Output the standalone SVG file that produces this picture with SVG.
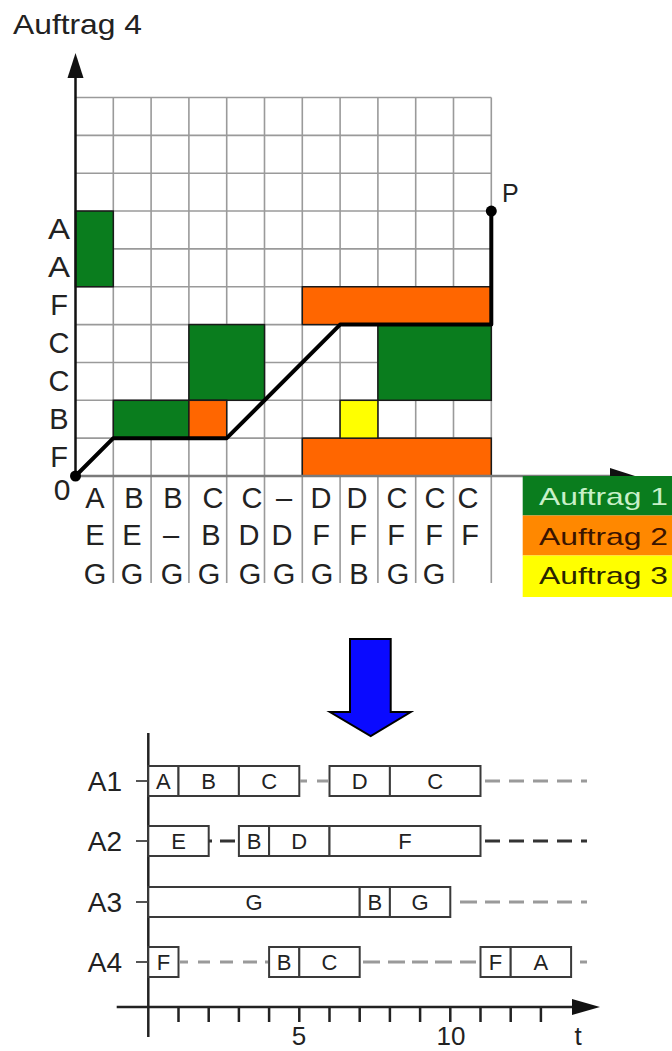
<svg xmlns="http://www.w3.org/2000/svg" width="672" height="1051" viewBox="0 0 672 1051">
<style>
text{font-family:"Liberation Sans",Arial,sans-serif;fill:#222}
.grid{stroke:#9a9a9a;stroke-width:1.6;fill:none}
.g1{fill:#0a7d1e;stroke:#1a1a1a;stroke-width:1.5}
.g2{fill:#ff6600;stroke:#1a1a1a;stroke-width:1.5}
.g3{fill:#ffff00;stroke:#1a1a1a;stroke-width:1.5}
.ylab{font-size:29px;text-anchor:middle}
.clab{font-size:29px;text-anchor:middle}
.box{fill:#fff;stroke:#3a3a3a;stroke-width:2}
.bl{font-size:22px;text-anchor:middle}
.dg{stroke:#9a9a9a;stroke-width:3;fill:none}
.dk{stroke:#333;stroke-width:3;fill:none}
.ax{stroke:#222;stroke-width:2.5;fill:none}
.rl{font-size:28px;text-anchor:end}
</style>

<text x="13" y="34" font-size="28" textLength="129" lengthAdjust="spacingAndGlyphs">Auftrag 4</text>

<g id="grid">
<path class="grid" d="M75.5,97.5H491.3M75.5,135.35H491.3M75.5,173.2H491.3M75.5,211.05H491.3M75.5,248.9H491.3M75.5,286.75H491.3M75.5,324.6H491.3M75.5,362.45H491.3M75.5,400.3H491.3M75.5,438.15H491.3"/>
<path class="grid" d="M113.3,97.5V583M151.1,97.5V583M188.9,97.5V583M226.7,97.5V583M264.5,97.5V583M302.3,97.5V583M340.1,97.5V583M377.9,97.5V583M415.7,97.5V583M453.5,97.5V583M491.3,97.5V583"/>
</g>

<g id="auftrag1-blocks">
<rect class="g1" x="75.5" y="211.05" width="37.8" height="75.7"/>
<rect class="g1" x="113.3" y="400.3" width="75.6" height="37.85"/>
<rect class="g1" x="188.9" y="324.6" width="75.6" height="75.7"/>
<rect class="g1" x="377.9" y="324.6" width="113.4" height="75.7"/>
</g>
<g id="auftrag2-blocks">
<rect class="g2" x="188.9" y="400.3" width="37.8" height="37.85"/>
<rect class="g2" x="302.3" y="286.75" width="189" height="37.85"/>
<rect class="g2" x="302.3" y="438.15" width="189" height="37.85"/>
</g>
<g id="auftrag3-blocks">
<rect class="g3" x="340.1" y="400.3" width="37.8" height="37.85"/>
</g>

<g id="axes-top">
<line x1="75.5" y1="476" x2="612" y2="476" stroke="#7a7a7a" stroke-width="2.5"/>
<polygon points="635,476 610,468 610,484" fill="#111"/>
<line x1="75.5" y1="478" x2="75.5" y2="76" stroke="#111" stroke-width="2.5"/>
<polygon points="75.5,53 67.5,78 83.5,78" fill="#111"/>
</g>

<g id="connectors">
<path d="M75.5,476 L113.3,438.15 L226.7,438.15 L340.1,324.6 L491.3,324.6 L491.3,211.05" fill="none" stroke="#000" stroke-width="4" stroke-linejoin="round"/>
<circle cx="75.5" cy="476" r="5.5" fill="#000"/>
<circle cx="491.3" cy="211.05" r="5.5" fill="#000"/>
</g>

<text x="502" y="202" font-size="25">P</text>
<text x="62" y="500" font-size="30" text-anchor="middle">0</text>

<g id="ylabels">
<text class="ylab" x="59" y="239" textLength="22" lengthAdjust="spacingAndGlyphs">A</text>
<text class="ylab" x="59" y="277" textLength="22" lengthAdjust="spacingAndGlyphs">A</text>
<text class="ylab" x="59" y="315">F</text>
<text class="ylab" x="59" y="353">C</text>
<text class="ylab" x="59" y="391">C</text>
<text class="ylab" x="59" y="429">B</text>
<text class="ylab" x="59" y="467">F</text>
</g>

<g id="collabels">
<text class="clab" x="95" y="508">A</text><text class="clab" x="95" y="545">E</text><text class="clab" x="95" y="584">G</text>
<text class="clab" x="134" y="508">B</text><text class="clab" x="132" y="545">E</text><text class="clab" x="132" y="584">G</text>
<text class="clab" x="173" y="508">B</text><text class="clab" x="171" y="545">–</text><text class="clab" x="172" y="584">G</text>
<text class="clab" x="213" y="508">C</text><text class="clab" x="211" y="545">B</text><text class="clab" x="209" y="584">G</text>
<text class="clab" x="252" y="508">C</text><text class="clab" x="249" y="545">D</text><text class="clab" x="250" y="584">G</text>
<text class="clab" x="284" y="508">–</text><text class="clab" x="282" y="545">D</text><text class="clab" x="284" y="584">G</text>
<text class="clab" x="321" y="508">D</text><text class="clab" x="321" y="545">F</text><text class="clab" x="322" y="584">G</text>
<text class="clab" x="357" y="508">D</text><text class="clab" x="358" y="545">F</text><text class="clab" x="359" y="584">B</text>
<text class="clab" x="397" y="508">C</text><text class="clab" x="396" y="545">F</text><text class="clab" x="398" y="584">G</text>
<text class="clab" x="435" y="508">C</text><text class="clab" x="434" y="545">F</text><text class="clab" x="434" y="584">G</text>
<text class="clab" x="468" y="508">C</text><text class="clab" x="470" y="545">F</text>
</g>

<g id="legend">
<rect x="522.7" y="476" width="149.3" height="39.5" fill="#0a7d1e"/>
<rect x="522.7" y="515.5" width="149.3" height="40" fill="#ff8800"/>
<rect x="522.7" y="555.5" width="149.3" height="41.5" fill="#ffff00"/>
<text x="539" y="505" font-size="24" style="fill:#c8f0c8" textLength="129" lengthAdjust="spacingAndGlyphs">Auftrag 1</text>
<text x="539" y="545" font-size="24" style="fill:#3a1400" textLength="129" lengthAdjust="spacingAndGlyphs">Auftrag 2</text>
<text x="539" y="584" font-size="24" style="fill:#2a2400" textLength="129" lengthAdjust="spacingAndGlyphs">Auftrag 3</text>
</g>

<g id="blue-arrow">
<polygon points="350,639 390.7,639 390.7,712 410.7,712 370.7,736 330,712 350,712" fill="#0a0aff" stroke="#000" stroke-width="2" stroke-linejoin="miter"/>
</g>

<g id="gantt-axes">
<line class="ax" x1="148.3" y1="733" x2="148.3" y2="1037"/>
<line class="ax" x1="116.7" y1="1007" x2="575" y2="1007"/>
<polygon points="600,1007 572,999 572,1015" fill="#111"/>
<path class="ax" stroke-width="2" d="M178.5,1007V1022M208.7,1007V1022M238.9,1007V1022M269.1,1007V1022M299.3,1007V1022M329.5,1007V1022M359.7,1007V1022M389.9,1007V1022M420.1,1007V1022M450.3,1007V1022M480.5,1007V1022M510.7,1007V1022M540.9,1007V1022"/>
<path stroke="#555" stroke-width="2" d="M136,781H148M136,841H148M136,902H148M136,962H148"/>
<text x="299" y="1045" font-size="26" text-anchor="middle">5</text>
<text x="451" y="1045" font-size="26" text-anchor="middle">10</text>
<text x="578" y="1045" font-size="26" text-anchor="middle">t</text>
</g>

<g id="row-A1">
<text class="rl" x="122" y="791">A1</text>
<rect class="box" x="148.3" y="766" width="30.2" height="30"/><text class="bl" x="163.4" y="789">A</text>
<rect class="box" x="178.5" y="766" width="60.4" height="30"/><text class="bl" x="208.7" y="789">B</text>
<rect class="box" x="238.9" y="766" width="60.4" height="30"/><text class="bl" x="269.1" y="789">C</text>
<rect class="box" x="329.5" y="766" width="60.4" height="30"/><text class="bl" x="359.7" y="789">D</text>
<rect class="box" x="389.9" y="766" width="90.6" height="30"/><text class="bl" x="435.2" y="789">C</text>
<path class="dg" d="M300,781H307M317,781H329"/>
<path class="dg" d="M485,781H500M509,781H524M533,781H548M557,781H572M581,781H587"/>
</g>

<g id="row-A2">
<text class="rl" x="122" y="851">A2</text>
<rect class="box" x="148.3" y="826" width="60.4" height="30"/><text class="bl" x="178.5" y="849">E</text>
<rect class="box" x="238.9" y="826" width="30.2" height="30"/><text class="bl" x="254" y="849">B</text>
<rect class="box" x="269.1" y="826" width="60.4" height="30"/><text class="bl" x="299.3" y="849">D</text>
<rect class="box" x="329.5" y="826" width="151" height="30"/><text class="bl" x="405" y="849">F</text>
<path class="dk" d="M209,841H212M220,841H235"/>
<path class="dk" d="M485,841H500M509,841H524M533,841H548M557,841H572M581,841H587"/>
</g>

<g id="row-A3">
<text class="rl" x="122" y="912">A3</text>
<rect class="box" x="148.3" y="887" width="211.4" height="30" stroke="#6a6a6a" stroke-width="2.6"/><text class="bl" x="254" y="910">G</text>
<rect class="box" x="359.7" y="887" width="30.2" height="30"/><text class="bl" x="374.8" y="910">B</text>
<rect class="box" x="389.9" y="887" width="60.4" height="30"/><text class="bl" x="420.1" y="910">G</text>
<path class="dg" d="M460,902H477M485,902H500M509,902H524M533,902H548M557,902H572M581,902H587"/>
</g>

<g id="row-A4">
<text class="rl" x="122" y="972">A4</text>
<rect class="box" x="148.3" y="947" width="30.2" height="30"/><text class="bl" x="163.4" y="970">F</text>
<rect class="box" x="269.1" y="947" width="30.2" height="30"/><text class="bl" x="284.2" y="970">B</text>
<rect class="box" x="299.3" y="947" width="60.4" height="30"/><text class="bl" x="329.5" y="970">C</text>
<rect class="box" x="480.5" y="947" width="30.2" height="30"/><text class="bl" x="495.6" y="970">F</text>
<rect class="box" x="510.7" y="947" width="60.4" height="30"/><text class="bl" x="540.9" y="970">A</text>
<path class="dg" d="M179,962H188M198,962H210M220,962H233M243,962H257M265,962H268"/>
<path class="dg" d="M363,962H380M388,962H405M412,962H428M435,962H452M460,962H476"/>
<path class="dg" d="M580,962H587"/>
</g>
</svg>
